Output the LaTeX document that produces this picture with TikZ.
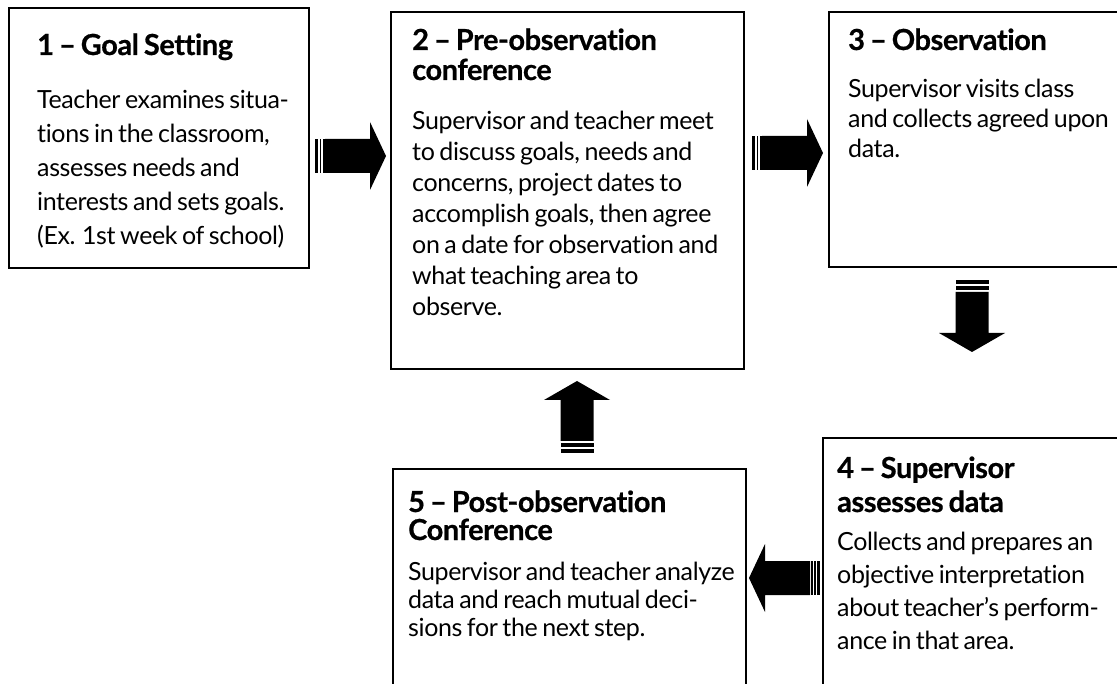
\documentclass[tikz,border=0pt]{standalone}
\usepackage{fontspec}
\setmainfont{Lato}[Ligatures={NoCommon}, LetterSpace=-1.5, WordSpace=0.75, BoldFeatures={FakeBold=0.6}]
\newcommand\txtlines[6]{\foreach \t [count=\i from 0] in {#6}{\node[#4] (#5\i) at (#1,{#2+\i*#3}) {\t};}}
\begin{document}
\begin{tikzpicture}[x=1pt,y=-1pt,
  boxst/.style={draw=black, line width=2pt, rectangle, anchor=north west, inner sep=0pt},
  body/.style={anchor=base west, inner sep=0pt, font=\fontsize{25}{30}\selectfont},
  head/.style={anchor=base west, inner sep=0pt, font=\fontsize{29}{34}\selectfont\bfseries},
  striparrow/.pic={
    \fill[black] (0,-17) rectangle (3,17);
    \fill[black] (4.5,-17) rectangle (6,17);
    \fill[black] (7.5,-17) rectangle (9.5,17);
    \fill[black] (10,-17) -- (55,-17) -- (55,-34) -- (71,0) -- (55,34) -- (55,17) -- (10,17) -- cycle;
  },
  striparrowb/.pic={
    \fill[black] (0,-16.5) rectangle (4,16.5);
    \fill[black] (6,-16.5) rectangle (10,16.5);
    \fill[black] (12,-16.5) -- (53,-16.5) -- (53,-33) -- (72,0) -- (53,33) -- (53,16.5) -- (12,16.5) -- cycle;
  }]
\useasboundingbox (0,0) rectangle (1117,684);
\clip (0,0) rectangle (1117,684);
% boxes
\node[boxst, minimum width=300pt, minimum height=260pt] (b1) at (8,7) {};
\node[boxst, minimum width=353pt, minimum height=357pt] (b2) at (390,11) {};
\node[boxst, minimum width=320pt, minimum height=255pt] (b3) at (828,11) {};
\node[boxst, minimum width=320pt, minimum height=300pt] (b4) at (822,437) {};
\node[boxst, minimum width=353pt, minimum height=250pt] (b5) at (392,468) {};
% box 1
\txtlines{37}{55}{34}{head}{t1-}{{1 – Goal Setting}}
\txtlines{37}{109}{34}{body}{x1-}{{Teacher examines situa-},{tions in the classroom,},{assesses needs and},{interests and sets goals.},{(Ex. 1st week of school)}}
% box 2
\txtlines{412}{50}{30}{head}{t2-}{{2 – Pre-observation},{conference}}
\txtlines{412}{130}{31}{body}{x2-}{{Supervisor and teacher meet},{to discuss goals, needs and},{concerns, project dates to},{accomplish goals, then agree},{on a date for observation and},{what teaching area to},{observe.}}
% box 3
\txtlines{848}{50}{30}{head}{t3-}{{3 – Observation}}
\txtlines{848}{98}{30}{body}{x3-}{{Supervisor visits class},{and collects agreed upon},{data.}}
% box 4
\txtlines{837}{478}{34}{head}{t4-}{{4 – Supervisor},{assesses data}}
\txtlines{837}{550}{33}{body}{x4-}{{Collects and prepares an},{objective interpretation},{about teacher’s perform-},{ance in that area.}}
% box 5
\txtlines{408}{512}{28}{head}{t5-}{{5 – Post-observation},{Conference}}
\txtlines{408}{580}{28}{body}{x5-}{{Supervisor and teacher analyze},{data and reach mutual deci-},{sions for the next step.}}
% arrows
\pic (a1) at (315,156) {striparrow};
\pic (a2) at (752,153) {striparrow};
\pic[rotate=-90] (a3) at (972,280) {striparrowb};
\pic[rotate=180] (a4) at (820,578) {striparrow};
\pic[rotate=90] (a5) at (577,453) {striparrowb};
\end{tikzpicture}
\end{document}
